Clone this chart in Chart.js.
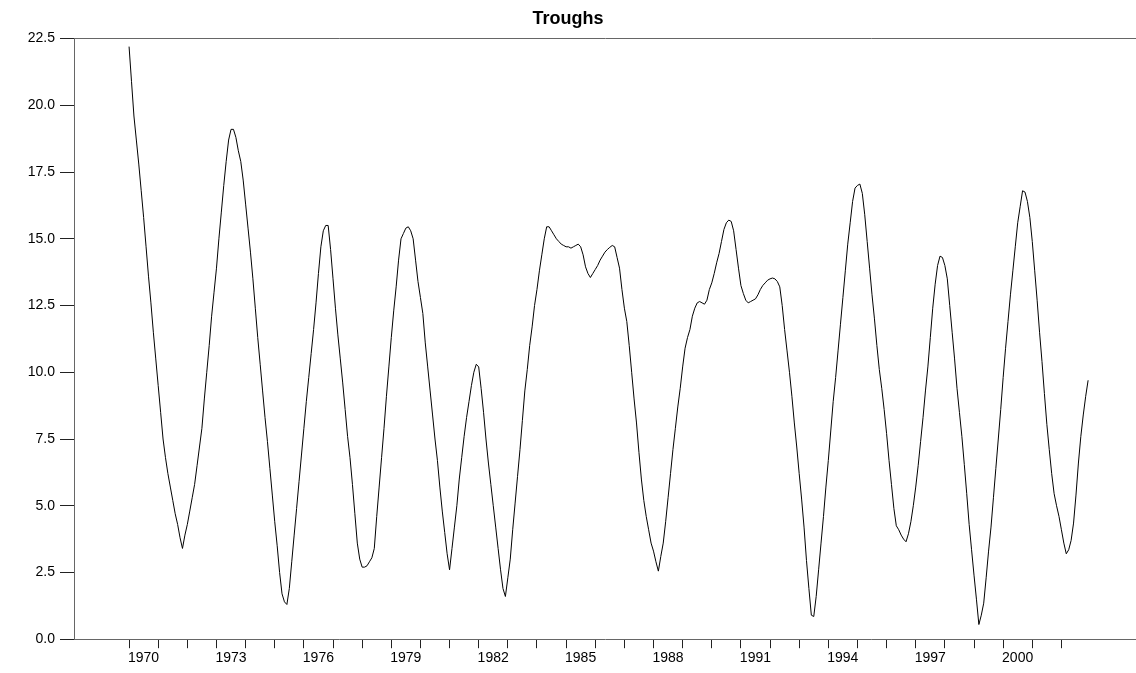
<!DOCTYPE html>
<html>
<head>
<meta charset="utf-8">
<script src="https://cdn.jsdelivr.net/npm/chart.js@4.4.1/dist/chart.umd.min.js"></script>
<style>
html, body { margin: 0; padding: 0; background: #fff; }
#wrap { width: 1136px; height: 673px; }
</style>
</head>
<body>
<div id="wrap"><canvas id="myChart" width="1136" height="673"></canvas></div>
<script>
const chartTitle = 'Troughs';
const startYear = 1970;

// monthly values, one row per year (1970 .. 2002)
const troughs = [
  22.2, 20.9, 19.6, 18.7, 17.8, 16.8, 15.8, 14.7, 13.6, 12.6, 11.5, 10.5,
  9.5, 8.5, 7.5, 6.8, 6.2, 5.7, 5.2, 4.7, 4.3, 3.8, 3.4, 3.9,
  4.3, 4.8, 5.3, 5.8, 6.5, 7.2, 7.9, 9.0, 10.0, 11.0, 12.1, 13.0,
  13.9, 15.0, 16.0, 17.0, 17.9, 18.7, 19.1, 19.1, 18.8, 18.3, 17.9, 17.2,
  16.3, 15.4, 14.5, 13.5, 12.4, 11.3, 10.3, 9.3, 8.3, 7.4, 6.4, 5.4,
  4.4, 3.5, 2.5, 1.7, 1.4, 1.3, 1.9, 2.9, 3.9, 4.9, 5.9, 6.9,
  7.9, 8.9, 9.8, 10.7, 11.6, 12.6, 13.7, 14.7, 15.3, 15.5, 15.5, 14.6,
  13.5, 12.4, 11.4, 10.5, 9.6, 8.6, 7.6, 6.8, 5.8, 4.7, 3.6, 3.0,
  2.7, 2.7, 2.75, 2.9, 3.05, 3.4, 4.6, 5.7, 6.8, 7.9, 9.1, 10.2,
  11.3, 12.3, 13.2, 14.2, 15.0, 15.2, 15.4, 15.45, 15.3, 15.0, 14.2, 13.4,
  12.8, 12.2, 11.1, 10.2, 9.3, 8.4, 7.5, 6.7, 5.7, 4.8, 4.0, 3.2,
  2.6, 3.4, 4.2, 5.0, 6.0, 6.8, 7.6, 8.3, 8.9, 9.5, 10.0, 10.3,
  10.2, 9.4, 8.5, 7.5, 6.6, 5.8, 5.0, 4.2, 3.4, 2.6, 1.9, 1.6,
  2.3, 3.0, 4.1, 5.1, 6.1, 7.1, 8.2, 9.3, 10.1, 11.0, 11.7, 12.5,
  13.1, 13.8, 14.4, 15.0, 15.45, 15.45, 15.3, 15.15, 15.0, 14.9, 14.8, 14.75,
  14.7, 14.7, 14.65, 14.7, 14.75, 14.8, 14.7, 14.4, 13.95, 13.7, 13.55, 13.7,
  13.85, 14.0, 14.2, 14.35, 14.5, 14.6, 14.68, 14.75, 14.7, 14.3, 13.9, 13.1,
  12.4, 11.9, 11.0, 10.0, 9.0, 8.1, 7.0, 6.0, 5.2, 4.6, 4.1, 3.6,
  3.3, 2.9, 2.55, 3.1, 3.6, 4.4, 5.3, 6.2, 7.1, 7.9, 8.7, 9.4,
  10.2, 10.9, 11.3, 11.6, 12.1, 12.4, 12.6, 12.65, 12.6, 12.55, 12.7, 13.1,
  13.35, 13.7, 14.1, 14.45, 14.9, 15.35, 15.6, 15.7, 15.65, 15.3, 14.6, 13.9,
  13.25, 12.95, 12.7, 12.6, 12.65, 12.7, 12.75, 12.9, 13.1, 13.25, 13.35, 13.45,
  13.5, 13.53, 13.5, 13.4, 13.2, 12.5, 11.6, 10.8, 10.0, 9.1, 8.1, 7.2,
  6.2, 5.25, 4.2, 2.95, 1.9, 0.9, 0.85, 1.6, 2.6, 3.6, 4.6, 5.7,
  6.7, 7.8, 8.9, 9.8, 10.8, 11.8, 12.8, 13.8, 14.8, 15.6, 16.4, 16.9,
  17.0, 17.05, 16.7, 15.9, 14.9, 13.9, 12.9, 12.0, 11.0, 10.1, 9.4, 8.6,
  7.7, 6.7, 5.8, 4.9, 4.25, 4.1, 3.9, 3.75, 3.65, 3.95, 4.4, 5.0,
  5.7, 6.5, 7.4, 8.3, 9.3, 10.2, 11.3, 12.4, 13.3, 14.0, 14.35, 14.3,
  14.0, 13.5, 12.5, 11.5, 10.5, 9.4, 8.5, 7.6, 6.55, 5.45, 4.3, 3.35,
  2.4, 1.5, 0.55, 0.9, 1.35, 2.3, 3.3, 4.2, 5.3, 6.4, 7.5, 8.6,
  9.8, 10.9, 11.9, 12.9, 13.8, 14.7, 15.6, 16.2, 16.8, 16.75, 16.4, 15.8,
  14.9, 13.8, 12.7, 11.5, 10.4, 9.2, 8.05, 7.1, 6.2, 5.45, 5.0, 4.6,
  4.1, 3.6, 3.2, 3.35, 3.7, 4.35, 5.4, 6.6, 7.6, 8.4, 9.1, 9.7
];

// year tick marks and the years that carry a label
const tickYears = [];
for (let y = 1970; y <= 2002; y++) tickYears.push(y);
const labelYears = [1970, 1973, 1976, 1979, 1982, 1985, 1988, 1991, 1994, 1997, 2000];
const yTicks = [0, 2.5, 5, 7.5, 10, 12.5, 15, 17.5, 20, 22.5];

// time of each monthly value, in years
const months = troughs.map((v, i) => startYear + i / 12);

const fam = '"Liberation Sans", Arial, Helvetica, sans-serif';

const config = {
  type: 'line',
  data: {
    datasets: [{
      data: months.map((t, i) => ({ x: t, y: troughs[i] })),
      borderColor: '#000',
      borderWidth: 1,
      pointRadius: 0,
      tension: 0,
      fill: false
    }]
  },
  options: {
    responsive: false,
    animation: false,
    devicePixelRatio: 1,
    layout: { padding: { left: 0, right: 0, top: 0, bottom: 4 } },
    plugins: {
      legend: { display: false },
      tooltip: { enabled: false },
      title: {
        display: true,
        text: chartTitle,
        color: '#000',
        font: { family: fam, size: 18, weight: 'bold' },
        padding: { top: 8, bottom: 9 }
      }
    },
    scales: {
      x: {
        type: 'linear',
        min: 1968.11,
        max: 2004.56,
        afterBuildTicks: s => { s.ticks = tickYears.map(v => ({ value: v })); },
        ticks: {
          autoSkip: false,
          maxRotation: 0,
          labelOffset: 14.5,
          padding: 2,
          color: '#000',
          font: { family: fam, size: 14 },
          callback: v => labelYears.includes(v) ? String(v) : ''
        },
        grid: { drawOnChartArea: false, drawTicks: true, tickLength: 9, color: '#222' },
        border: { display: true, color: '#666' }
      },
      xTop: {
        type: 'linear',
        position: 'top',
        min: 1968.11,
        max: 2004.56,
        ticks: { display: false },
        grid: { display: false, drawTicks: false },
        border: { display: true, color: '#666' }
      },
      y: {
        min: 0,
        max: 22.5,
        afterBuildTicks: s => { s.ticks = yTicks.map(v => ({ value: v })); },
        afterFit: s => { s.width = 74; },
        ticks: {
          padding: 5,
          color: '#000',
          font: { family: fam, size: 14 },
          callback: v => v.toFixed(1)
        },
        grid: { drawOnChartArea: false, drawTicks: true, tickLength: 14, color: '#222' },
        border: { display: true, color: '#666' }
      }
    }
  }
};

const myChart = new Chart(document.getElementById('myChart'), config);
</script>
</body>
</html>
